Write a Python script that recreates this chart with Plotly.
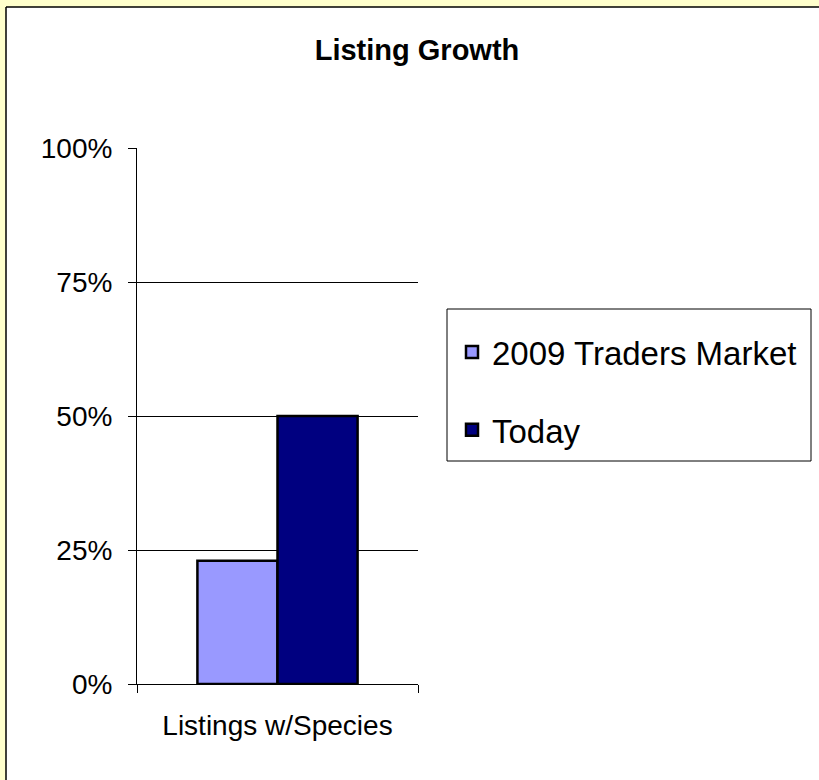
import plotly.graph_objects as go

# ---- data ----
categories = ["Listings w/Species"]
series_names = ["2009 Traders Market", "Today"]
series_values = [[0.23], [0.50]]
series_colors = ["#9999FF", "#000080"]
y_ticks = [0, 0.25, 0.5, 0.75, 1.0]
y_tick_labels = ["0%", "25%", "50%", "75%", "100%"]
title_text = "<b>Listing Growth</b>"

W, H = 819, 780
L, R, T, B = 137, 418, 148, 684  # plot area in pixels

def px(x):
    return (x - L) / (R - L)

def py(y):
    return (B - y) / (B - T)

FONT = "Liberation Sans, Arial, sans-serif"

fig = go.Figure()
for name, vals, col in zip(series_names, series_values, series_colors):
    fig.add_trace(go.Bar(
        x=categories, y=vals, name=name, legendgroup=name,
        marker=dict(color=col, line=dict(color="black", width=2.5)),
        hoverinfo="skip",
    ))

shapes = [
    # yellow frame strips (top and left)
    dict(type="rect", xref="paper", yref="paper", x0=px(0), x1=px(W), y0=py(0), y1=py(7),
         fillcolor="#FFFFCC", line=dict(width=0), layer="below"),
    dict(type="rect", xref="paper", yref="paper", x0=px(0), x1=px(6), y0=py(0), y1=py(H),
         fillcolor="#FFFFCC", line=dict(width=0), layer="below"),
    dict(type="line", xref="paper", yref="paper", x0=px(6), x1=px(W), y0=py(7), y1=py(7),
         line=dict(color="black", width=1.5)),
    dict(type="line", xref="paper", yref="paper", x0=px(6), x1=px(6), y0=py(7), y1=py(H),
         line=dict(color="black", width=1.5)),
    # legend frame
    dict(type="rect", xref="paper", yref="paper", x0=px(447), x1=px(811), y0=py(309), y1=py(461),
         fillcolor="rgba(0,0,0,0)", line=dict(color="black", width=1)),
]

fig.update_layout(
    width=W, height=H,
    margin=dict(l=L, r=W - R, t=T, b=H - B, autoexpand=False),
    paper_bgcolor="white", plot_bgcolor="white",
    font=dict(family=FONT, color="black"),
    title=dict(text=title_text, x=417 / W, xanchor="center", y=1 - 50 / H, yanchor="middle",
               font=dict(size=29, family=FONT, color="black")),
    barmode="group", bargap=0.43, bargroupgap=0,
    showlegend=True,
    legend=dict(x=px(452), xanchor="left", y=py(324), yanchor="top",
                borderwidth=0, bgcolor="rgba(0,0,0,0)",
                font=dict(size=33, family=FONT, color="black"),
                tracegroupgap=32, traceorder="grouped",
                itemwidth=30),
    shapes=shapes,
    xaxis=dict(type="category", showline=True, linecolor="black", linewidth=1,
               ticks="outside", tickson="boundaries", ticklen=8, tickcolor="black",
               tickfont=dict(size=28, family=FONT), showgrid=False,
               ticklabelstandoff=16),
    yaxis=dict(range=[0, 1], tickvals=y_ticks, ticktext=y_tick_labels,
               showline=True, linecolor="black", linewidth=1,
               ticks="outside", ticklen=8, tickcolor="black",
               showgrid=True, gridcolor="black", gridwidth=1,
               zeroline=False, tickfont=dict(size=28, family=FONT),
               ticklabelstandoff=10),
)

fig.write_html("out.html", config={"displayModeBar": False},
               post_script="document.body.style.margin='0';")
